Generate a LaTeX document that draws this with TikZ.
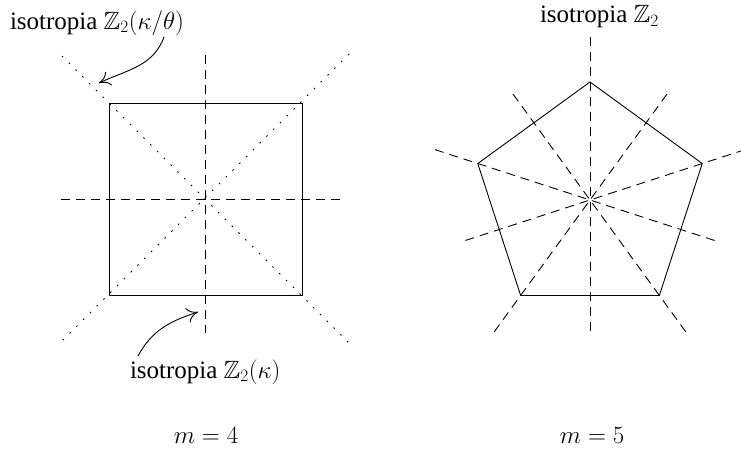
\documentclass[tikz,border=0pt]{standalone}
\usepackage{amsmath,amssymb}
\usepackage{fontspec}
\setmainfont{Liberation Serif}
\usetikzlibrary{arrows.meta,calc}
\begin{document}
\begin{tikzpicture}[x=1pt,y=-1pt,
  every node/.style={inner sep=0pt,outer sep=0pt,font=\fontsize{25}{29}\selectfont},
  mathlabel/.style={font=\fontsize{24}{28}\selectfont},
  solidline/.style={line width=0.9pt},
  axisline/.style={line width=0.9pt,dash pattern=on 9pt off 6pt},
  diagline/.style={line width=0.9pt,dash pattern=on 1.6pt off 8pt},
  pointer/.style={line width=0.9pt,-{To[length=11pt,width=15pt]}}]
\useasboundingbox (0,0) rectangle (741,455);
% ---- square (m=4)
\coordinate (c1) at (205,199);
\coordinate (s1) at (109,103);
\coordinate (s2) at (302,103);
\coordinate (s3) at (302,295);
\coordinate (s4) at (109,295);
\draw[solidline] (s1) -- (s2) -- (s3) -- (s4) -- cycle;
\coordinate (h1) at (61,199);
\coordinate (h2) at (340,199);
\coordinate (v1) at (205,55);
\coordinate (v2) at (205,333);
\draw[axisline] (h1) -- (h2);
\draw[axisline] (v1) -- (v2);
\coordinate (d1) at (62,56);
\coordinate (d2) at (348,342);
\coordinate (d3) at (349,54);
\coordinate (d4) at (62,341);
\draw[diagline] (d1) -- (d2);
\draw[diagline] (d3) -- (d4);
% labels left
\node[anchor=base west] (lab1) at (10,29) {isotropia $\mathbb{Z}_2(\kappa/\theta)$};
\node[anchor=base west] (lab2) at (130,378) {isotropia $\mathbb{Z}_2(\kappa)$};
\coordinate (a1s) at (164,37);
\coordinate (a1e) at (99,83);
\draw[pointer] (a1s) to[out=-110,in=25] (a1e);
\coordinate (a2s) at (138,356);
\coordinate (a2e) at (198,312);
\draw[pointer] (a2s) to[out=62,in=198] (a2e);
\node[mathlabel,anchor=base] (m4) at (206,443) {$m=4$};
% ---- pentagon (m=5)
\begin{scope}[shift={(590,200)}]
  \coordinate (c2) at (0,0);
  \foreach \a [count=\i] in {-90,-18,54,126,198} {
    \coordinate (p\i) at (\a:118);
    \coordinate (pv\i) at (\a:163);
    \coordinate (pe\i) at (\a+180:132);
    \draw[axisline] (pv\i) -- (pe\i);
  }
  \draw[solidline] (p1) -- (p2) -- (p3) -- (p4) -- (p5) -- cycle;
\end{scope}
\node[anchor=base west,text height=17pt,text depth=5pt] (lab3) at (540,23) {isotropia $\mathbb{Z}_2$};
\node[mathlabel,anchor=base] (m5) at (592,443) {$m=5$};
\end{tikzpicture}
\end{document}
